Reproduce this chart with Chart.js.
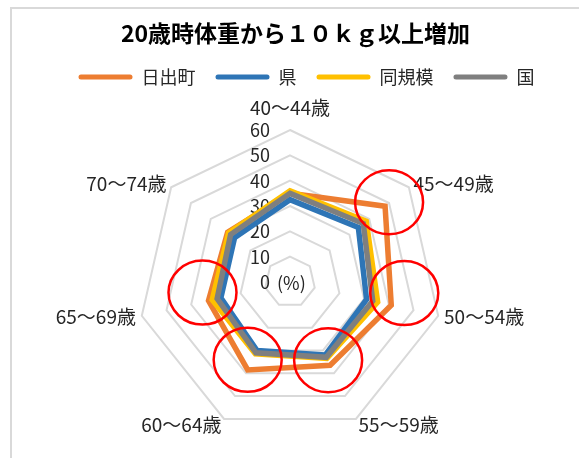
<!DOCTYPE html>
<html lang="ja">
<head>
<meta charset="utf-8">
<script src="https://cdn.jsdelivr.net/npm/chart.js@4"></script>
<style>
  html, body { margin: 0; padding: 0; background: #fff; overflow: hidden; }
  #wrap { position: relative; width: 579px; height: 458px; }
  #frame { position: absolute; left: 10px; top: 7px; width: 600px; height: 500px; border: 2px solid #d9d9d9; box-sizing: border-box; }
  canvas { position: absolute; left: 0; top: 0; }
</style>
</head>
<body>
<div id="wrap">
  <div id="frame"></div>
  <canvas id="chart" width="579" height="458"></canvas>
</div>
<script>
// ── Data ─────────────────────────────────────────────────────────────────────
const AGE_GROUPS = ["40～44歳", "45～49歳", "50～54歳", "55～59歳", "60～64歳", "65～69歳", "70～74歳"];
const HINODE = [35, 48, 41, 36.5, 38.5, 33, 31.5];     // 日出町
const KEN    = [32.5, 34.5, 31, 32, 30, 28, 28];       // 県
const DOKIBO = [36, 38.5, 35.5, 33.5, 31.5, 31.5, 31]; // 同規模
const KUNI   = [35, 37, 33.5, 33, 31, 29.5, 30];       // 国
const TICKS = [0, 10, 20, 30, 40, 50, 60];
const CIRCLED = [1, 2, 3, 4, 5]; // age groups marked with red circles

// ── Look ─────────────────────────────────────────────────────────────────────
const FONT = "'Noto Sans CJK JP', 'Noto Sans', sans-serif";
const TEXT = "#262626";
const CENTER_X = 290, CENTER_Y = 282, RADIUS = 152;
const CIRCLE_SHIFT = [[4, -4], [13, -12], [-2, -5], [0, -10], [-6, -8]];
const LEGEND_SHIFT = 11;

function series(label, data, color, order) {
  return {
    label, data, order,
    borderColor: color,
    backgroundColor: color,
    borderWidth: 5.5,
    borderJoinStyle: "miter",
    fill: false,
    pointRadius: 0,
    pointHoverRadius: 0,
  };
}

// ── Labels, legend nudge, red circles ────────────────────────────────────────
const decor = {
  id: "decor",
  afterLayout(chart) {
    chart.legend.left += LEGEND_SHIFT;
    chart.legend.right += LEGEND_SHIFT;
  },
  beforeDatasetsDraw(chart) {
    const s = chart.scales.r;
    const ctx = chart.ctx;
    ctx.save();
    ctx.fillStyle = TEXT;
    ctx.textBaseline = "middle";

    // tick labels, left of the vertical axis
    ctx.font = `18px ${FONT}`;
    ctx.textAlign = "right";
    TICKS.forEach((v) => {
      const p = s.getPointPositionForValue(0, v);
      ctx.fillText(String(v), p.x - 20, p.y);
    });
    ctx.textAlign = "left";
    ctx.fillText("(%)", s.xCenter - 13, s.yCenter + 1);

    // age group labels
    ctx.font = `19px ${FONT}`;
    AGE_GROUPS.forEach((label, i) => {
      const p = s.getPointPosition(i, i === 0 ? RADIUS + 22 : RADIUS + 6);
      if (i === 0) ctx.textAlign = "center";
      else if (p.x > s.xCenter) ctx.textAlign = "left";
      else ctx.textAlign = "right";
      ctx.fillText(label, p.x, p.y);
    });
    ctx.restore();
  },
  afterDraw(chart) {
    const s = chart.scales.r;
    const ctx = chart.ctx;
    ctx.save();
    ctx.strokeStyle = "#ff0000";
    ctx.lineWidth = 2.5;
    CIRCLED.forEach((idx, k) => {
      const p = s.getPointPositionForValue(idx, HINODE[idx]);
      ctx.beginPath();
      ctx.ellipse(p.x + CIRCLE_SHIFT[k][0], p.y + CIRCLE_SHIFT[k][1], 34, 32, 0, 0, Math.PI * 2);
      ctx.stroke();
    });
    ctx.restore();
  },
};

// ── Chart ────────────────────────────────────────────────────────────────────
new Chart(document.getElementById("chart"), {
  type: "radar",
  data: {
    labels: AGE_GROUPS,
    datasets: [
      series("日出町", HINODE, "#ed7d31", 4),
      series("県", KEN, "#2e75b6", 3),
      series("同規模", DOKIBO, "#ffc000", 2),
      series("国", KUNI, "#7f7f7f", 1),
    ],
  },
  options: {
    responsive: false,
    animation: false,
    layout: { padding: { left: 12 } },
    plugins: {
      title: {
        display: true,
        text: "20歳時体重から１０ｋｇ以上増加",
        color: "#000",
        font: { family: FONT, size: 23, weight: "bold" },
        padding: { top: 19, bottom: 1.5 },
      },
      legend: {
        position: "top",
        labels: {
          boxWidth: 54,
          boxHeight: 5,
          useBorderRadius: true,
          borderRadius: 2.5,
          padding: 20,
          color: TEXT,
          font: { family: FONT, size: 18 },
          sort: (a, b) => a.datasetIndex - b.datasetIndex,
          generateLabels: (chart) =>
            Chart.defaults.plugins.legend.labels.generateLabels(chart).map((l) => ({ ...l, lineWidth: 0 })),
        },
      },
      tooltip: { enabled: false },
    },
    scales: {
      r: {
        min: 0,
        max: 60,
        ticks: { display: false, stepSize: 10 },
        pointLabels: { display: false },
        angleLines: { display: false },
        grid: { color: "#d9d9d9", lineWidth: 2 },
        afterFit: (s) => {
          s.xCenter = CENTER_X;
          s.yCenter = CENTER_Y;
          s.drawingArea = RADIUS;
        },
      },
    },
  },
  plugins: [decor],
});
</script>
</body>
</html>
